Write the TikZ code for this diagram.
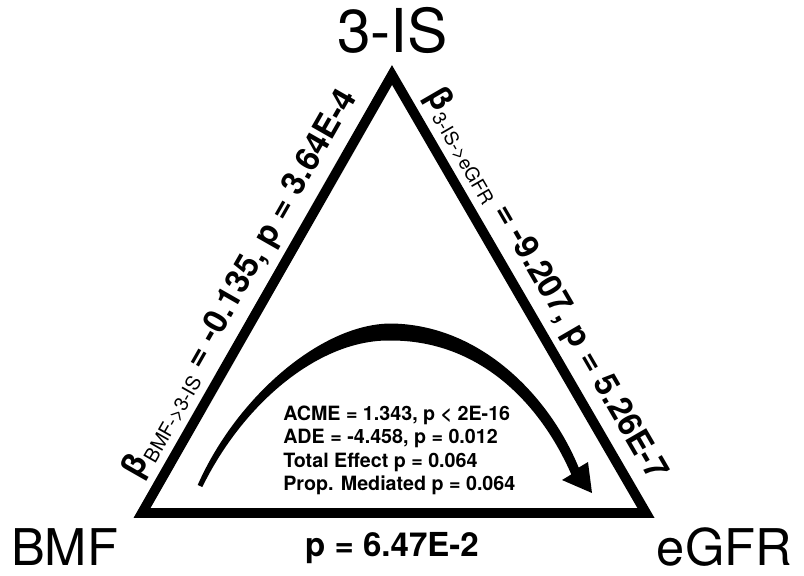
\documentclass[tikz,border=0pt]{standalone}
\usepackage{fontspec}
\setmainfont{TeX Gyre Heros}
\usetikzlibrary{positioning}

\begin{document}
\begin{tikzpicture}[x=0.025cm, y=-0.025cm,
    edge/.style={black, line width=7pt, line join=miter},
    corner/.style={font=\fontsize{36}{36}\selectfont, anchor=base, inner sep=0pt},
    coef/.style={font=\bfseries\fontsize{23.5}{24}\selectfont, inner sep=0pt, sloped}]
    \useasboundingbox (0,0) rectangle (804,575);
    % corners of the triangle
        \coordinate (is) at (392,75);
        \coordinate (bmf) at (142,513);
        \coordinate (egfr) at (646,513);
    \draw[edge] (bmf) -- (is) -- (egfr) -- cycle;
    % Below nodes are the labels.
        \node[corner, font=\fontsize{43}{43}\selectfont] (islabel) at (392.5,52) {3-IS};
        \node[corner] (bmflabel) at (64.5,565) {BMF};
        \node[corner] (egfrlabel) at (724.5,565) {eGFR};
        \path (bmf) -- (is) node[coef, pos=0.49, above=8pt] (bmfis)
            {β{\mdseries\fontsize{14}{14}\selectfont\raisebox{-4.5pt}{BMF->3-IS}} = -0.135, p = 3.64E-4};
        \path (is) -- (egfr) node[coef, pos=0.51, above=8pt] (isegfr)
            {β{\mdseries\fontsize{13.5}{14}\selectfont\raisebox{-4.5pt}{3-IS->eGFR}} = -9.207, p = 5.26E-7};
        \node[font=\bfseries\fontsize{23.5}{24}\selectfont, anchor=base] (direct) at (392,556) {p = 6.47E-2};
        \node[font=\bfseries\fontsize{14}{16.4}\selectfont, align=left, anchor=north west, inner sep=0pt] (acme) at (283,406)
            {ACME = 1.343, p < 2E-16\\ADE = -4.458, p = 0.012\\Total Effect p = 0.064\\Prop. Mediated p = 0.064};
    % This draws the curved arrow.
        \fill (197.7,485) .. controls (235.9,398.1) and (320,324.5) .. (390,323.5)
            .. controls (480,324) and (549.4,395.95) .. (578.7,467.6)
            -- (588,462) -- (592,493) -- (562,480) -- (571.3,474.4)
            .. controls (540.6,404.05) and (480,340) .. (390,340.5)
            .. controls (320,339.5) and (244.1,401.9) .. (202.3,487) -- cycle;
\end{tikzpicture}
\end{document}
